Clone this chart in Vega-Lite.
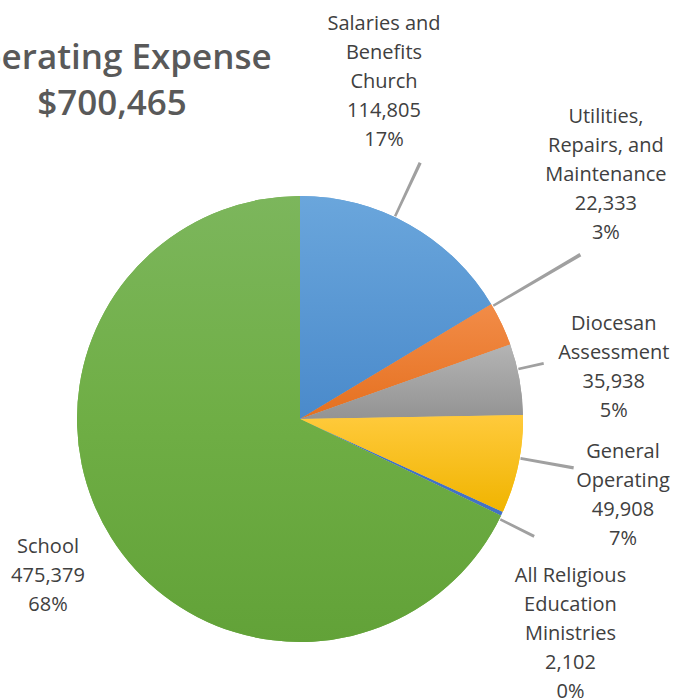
{
  "$schema": "https://vega.github.io/schema/vega-lite/v6.json",
  "width": 600,
  "height": 562,
  "autosize": "none",
  "padding": {"left": 0, "top": 138, "right": 73, "bottom": 0},
  "background": "white",
  "view": {"stroke": null},
  "config": {"font": "Open Sans"},
  "title": {
    "text": ["Operating Expense", "$700,465"],
    "frame": "group",
    "anchor": "start",
    "align": "center",
    "dx": 112,
    "offset": -136,
    "baseline": "alphabetic",
    "fontSize": 35,
    "font": "Open Sans",
    "fontWeight": 600,
    "color": "#595959",
    "lineHeight": 46
  },
  "data": {
    "values": [
      {"name": "Salaries and Benefits Church", "value": 114805, "order": 1, "label": "Salaries and\nBenefits\nChurch\n114,805\n17%"},
      {"name": "Utilities, Repairs, and Maintenance", "value": 22333, "order": 2, "label": "Utilities,\nRepairs, and\nMaintenance\n22,333\n3%"},
      {"name": "Diocesan Assessment", "value": 35938, "order": 3, "label": "Diocesan\nAssessment\n35,938\n5%"},
      {"name": "General Operating", "value": 49908, "order": 4, "label": "General\nOperating\n49,908\n7%"},
      {"name": "All Religious Education Ministries", "value": 2102, "order": 5, "label": "All Religious\nEducation\nMinistries\n2,102\n0%"},
      {"name": "School", "value": 475379, "order": 6, "label": "School\n475,379\n68%"}
    ]
  },
  "transform": [
    {"stack": "value", "groupby": [], "sort": [{"field": "order", "order": "ascending"}], "as": ["v0", "v1"]}
  ],
  "layer": [
    {
      "mark": {"type": "arc", "radius": 223},
      "encoding": {
        "theta": {"field": "value", "type": "quantitative", "stack": true},
        "order": {"field": "order", "type": "quantitative"},
        "color": {
          "field": "name",
          "type": "nominal",
          "sort": {"field": "order"},
          "scale": {
            "domain": ["Salaries and Benefits Church", "Utilities, Repairs, and Maintenance", "Diocesan Assessment", "General Operating", "All Religious Education Ministries", "School"],
            "range": ["#5B9BD5", "#ED7D31", "#A5A5A5", "#FFC000", "#4472C4", "#70AD47"]
          },
          "legend": null
        }
      }
    },
    {
      "transform": [{"filter": "datum.order == 1"}],
      "mark": {"type": "arc", "radius": 223, "color": {"gradient": "linear", "x1": 0, "y1": 0, "x2": 0, "y2": 1, "stops": [{"offset": 0, "color": "#6AA6DC"}, {"offset": 1, "color": "#4A8ACB"}]}},
      "encoding": {"theta": {"field": "v0", "type": "quantitative", "stack": null}, "theta2": {"field": "v1"}}
    },
    {
      "transform": [{"filter": "datum.order == 2"}],
      "mark": {"type": "arc", "radius": 223, "color": {"gradient": "linear", "x1": 0, "y1": 0, "x2": 0, "y2": 1, "stops": [{"offset": 0, "color": "#F28C48"}, {"offset": 1, "color": "#E5701F"}]}},
      "encoding": {"theta": {"field": "v0", "type": "quantitative", "stack": null}, "theta2": {"field": "v1"}}
    },
    {
      "transform": [{"filter": "datum.order == 3"}],
      "mark": {"type": "arc", "radius": 223, "color": {"gradient": "linear", "x1": 0, "y1": 0, "x2": 0, "y2": 1, "stops": [{"offset": 0, "color": "#B4B4B4"}, {"offset": 1, "color": "#939393"}]}},
      "encoding": {"theta": {"field": "v0", "type": "quantitative", "stack": null}, "theta2": {"field": "v1"}}
    },
    {
      "transform": [{"filter": "datum.order == 4"}],
      "mark": {"type": "arc", "radius": 223, "color": {"gradient": "linear", "x1": 0, "y1": 0, "x2": 0, "y2": 1, "stops": [{"offset": 0, "color": "#FFCA3C"}, {"offset": 1, "color": "#F0B400"}]}},
      "encoding": {"theta": {"field": "v0", "type": "quantitative", "stack": null}, "theta2": {"field": "v1"}}
    },
    {
      "transform": [{"filter": "datum.order == 6"}],
      "mark": {"type": "arc", "radius": 223, "color": {"gradient": "linear", "x1": 0, "y1": 0, "x2": 0, "y2": 1, "stops": [{"offset": 0, "color": "#7CB65C"}, {"offset": 0.5, "color": "#6FAE45"}, {"offset": 1, "color": "#62A238"}]}},
      "encoding": {"theta": {"field": "v0", "type": "quantitative", "stack": null}, "theta2": {"field": "v1"}}
    },
    {
      "transform": [{"filter": "datum.order == 1"}],
      "mark": {"type": "arc", "radius": 283, "radius2": 224, "thetaOffset": 0.43283, "theta2Offset": -0.58549, "color": "#A0A0A0"},
      "encoding": {"theta": {"field": "v0", "type": "quantitative", "stack": null}, "theta2": {"field": "v1"}}
    },
    {
      "transform": [{"filter": "datum.order == 2"}],
      "mark": {"type": "arc", "radius": 325, "radius2": 224, "thetaOffset": 0.00515, "theta2Offset": -0.18366, "color": "#A0A0A0"},
      "encoding": {"theta": {"field": "v0", "type": "quantitative", "stack": null}, "theta2": {"field": "v1"}}
    },
    {
      "transform": [{"filter": "datum.order == 3"}],
      "mark": {"type": "arc", "radius": 250, "radius2": 224, "thetaOffset": 0.11027, "theta2Offset": -0.2006, "color": "#A0A0A0"},
      "encoding": {"theta": {"field": "v0", "type": "quantitative", "stack": null}, "theta2": {"field": "v1"}}
    },
    {
      "transform": [{"filter": "datum.order == 4"}],
      "mark": {"type": "arc", "radius": 278, "radius2": 224, "thetaOffset": 0.18933, "theta2Offset": -0.24684, "color": "#A0A0A0"},
      "encoding": {"theta": {"field": "v0", "type": "quantitative", "stack": null}, "theta2": {"field": "v1"}}
    },
    {
      "transform": [{"filter": "datum.order == 5"}],
      "mark": {"type": "arc", "radius": 262, "radius2": 224, "thetaOffset": 0.02964, "theta2Offset": 0.02228, "color": "#A0A0A0"},
      "encoding": {"theta": {"field": "v0", "type": "quantitative", "stack": null}, "theta2": {"field": "v1"}}
    },
    {
      "transform": [{"filter": "datum.order == 1"}],
      "mark": {"type": "text", "radius": 389, "dx": 84, "dy": 0, "align": "center", "baseline": "alphabetic", "lineBreak": "\n", "lineHeight": 29, "fontSize": 20, "font": "Open Sans", "color": "#404040"},
      "encoding": {"theta": {"field": "v0", "type": "quantitative", "stack": null}, "text": {"field": "label", "type": "nominal"}}
    },
    {
      "transform": [{"filter": "datum.order == 2"}],
      "mark": {"type": "text", "radius": 330, "dx": 23, "dy": -126, "align": "center", "baseline": "alphabetic", "lineBreak": "\n", "lineHeight": 29, "fontSize": 20, "font": "Open Sans", "color": "#404040"},
      "encoding": {"theta": {"field": "v0", "type": "quantitative", "stack": null}, "text": {"field": "label", "type": "nominal"}}
    },
    {
      "transform": [{"filter": "datum.order == 3"}],
      "mark": {"type": "text", "radius": 300, "dx": 31, "dy": 11, "align": "center", "baseline": "alphabetic", "lineBreak": "\n", "lineHeight": 29, "fontSize": 20, "font": "Open Sans", "color": "#404040"},
      "encoding": {"theta": {"field": "v0", "type": "quantitative", "stack": null}, "text": {"field": "label", "type": "nominal"}}
    },
    {
      "transform": [{"filter": "datum.order == 4"}],
      "mark": {"type": "text", "radius": 300, "dx": 23, "dy": 44, "align": "center", "baseline": "alphabetic", "lineBreak": "\n", "lineHeight": 29, "fontSize": 20, "font": "Open Sans", "color": "#404040"},
      "encoding": {"theta": {"field": "v0", "type": "quantitative", "stack": null}, "text": {"field": "label", "type": "nominal"}}
    },
    {
      "transform": [{"filter": "datum.order == 5"}],
      "mark": {"type": "text", "radius": 270, "dx": 25, "dy": 51, "align": "center", "baseline": "alphabetic", "lineBreak": "\n", "lineHeight": 29, "fontSize": 20, "font": "Open Sans", "color": "#404040"},
      "encoding": {"theta": {"field": "v0", "type": "quantitative", "stack": null}, "text": {"field": "label", "type": "nominal"}}
    },
    {
      "transform": [{"filter": "datum.order == 6"}],
      "mark": {"type": "text", "radius": 0, "dx": -252, "dy": 134, "align": "center", "baseline": "alphabetic", "lineBreak": "\n", "lineHeight": 29, "fontSize": 20, "font": "Open Sans", "color": "#404040"},
      "encoding": {"theta": {"field": "v0", "type": "quantitative", "stack": null}, "text": {"field": "label", "type": "nominal"}}
    }
  ]
}
